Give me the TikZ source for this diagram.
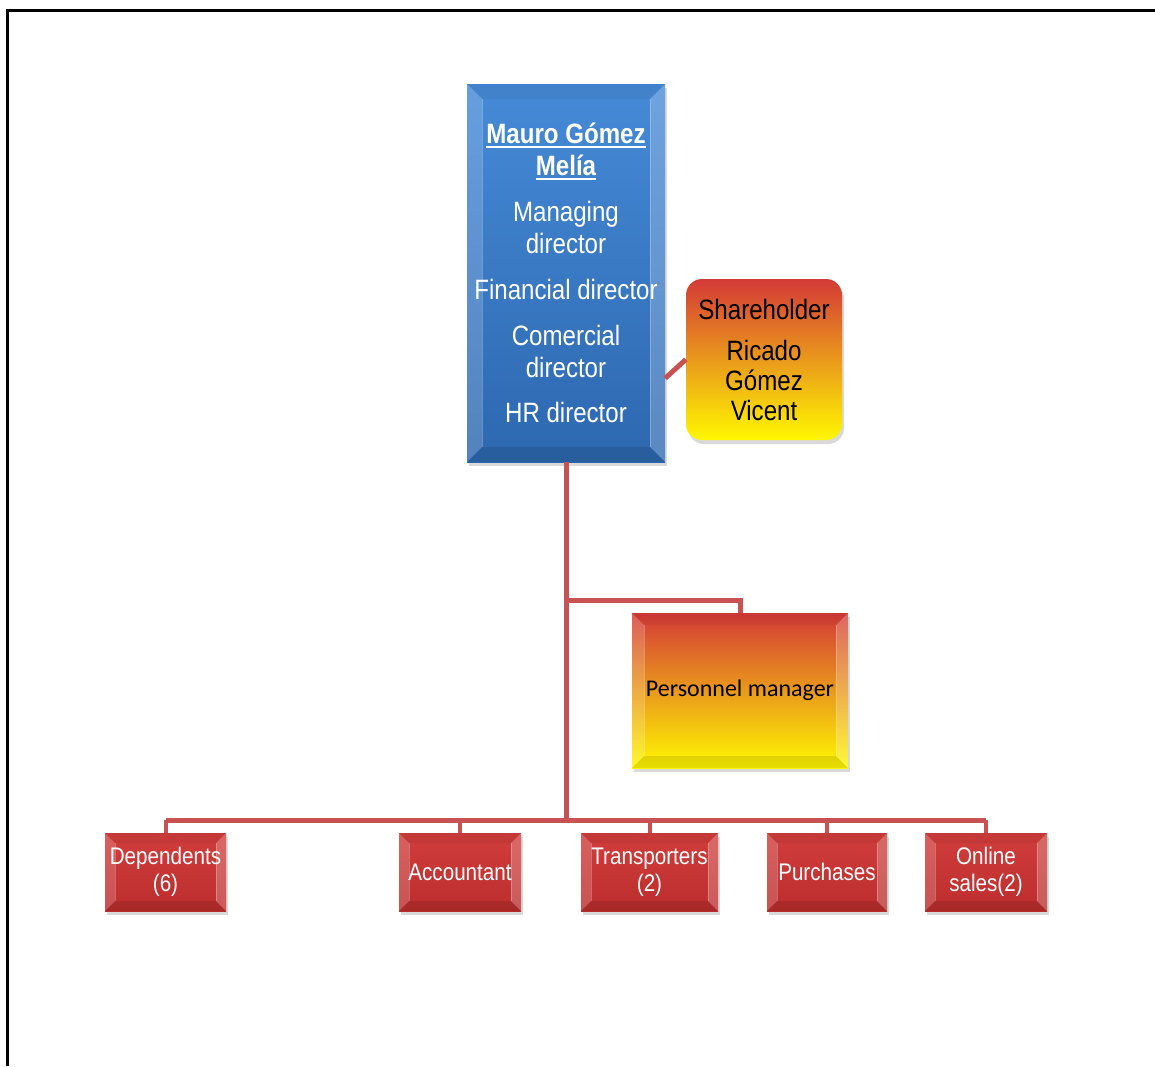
\documentclass[tikz,border=0pt]{standalone}
\usepackage{fontspec}
\setmainfont{Liberation Sans}
\newfontfamily\narrowfont{Liberation Sans}[FakeStretch=0.86]
\newfontfamily\calibrifont{Carlito}
\usetikzlibrary{shadows,calc}
\definecolor{linkred}{RGB}{200,82,82}
\definecolor{bluetop}{RGB}{70,138,215}
\definecolor{bluebot}{RGB}{45,104,176}
\definecolor{redtop}{RGB}{208,62,60}
\definecolor{redbot}{RGB}{188,45,45}
\definecolor{gradred}{RGB}{212,58,55}
\definecolor{gradorange}{RGB}{236,140,38}
\definecolor{gradyellow}{RGB}{255,248,0}
\newcommand\myul[1]{\setbox0\hbox{#1}\rlap{\rule[-4pt]{\wd0}{1.8pt}}\box0}
\tikzset{
  bevel/.style={path picture={
    \coordinate (bvNW) at (path picture bounding box.north west);
    \coordinate (bvNE) at (path picture bounding box.north east);
    \coordinate (bvSW) at (path picture bounding box.south west);
    \coordinate (bvSE) at (path picture bounding box.south east);
    \coordinate (bvnw) at ([shift={(#1,-#1)}]bvNW);
    \coordinate (bvne) at ([shift={(-#1,-#1)}]bvNE);
    \coordinate (bvsw) at ([shift={(#1,#1)}]bvSW);
    \coordinate (bvse) at ([shift={(-#1,#1)}]bvSE);
    \fill[white,opacity=.18] (bvNW) -- (bvnw) -- (bvsw) -- (bvSW) -- cycle;
    \fill[white,opacity=.22] (bvNE) -- (bvne) -- (bvse) -- (bvSE) -- cycle;
    \fill[black,opacity=.05] (bvNW) -- (bvNE) -- (bvne) -- (bvnw) -- cycle;
    \fill[black,opacity=.10] (bvSW) -- (bvSE) -- (bvse) -- (bvsw) -- cycle;
    \draw[white,opacity=.25,line width=.8pt] (bvnw) -- (bvsw) (bvne) -- (bvse);
  }},
  shad/.style={drop shadow={opacity=.3,shadow xshift=2pt,shadow yshift=-4pt}},
  bluebox/.style={rectangle,inner sep=0pt,align=center,text=white,
    top color=bluetop,bottom color=bluebot,shad,bevel=15pt,
    font=\narrowfont\fontsize{28}{32}\selectfont},
  gradbox/.style={rectangle,inner sep=0pt,align=center,text=black,
    top color=gradred,middle color=gradorange,bottom color=gradyellow,shad},
  redbox/.style={rectangle,inner sep=0pt,align=center,text=white,
    minimum height=78pt,top color=redtop,bottom color=redbot,shad,bevel=10pt,
    font=\narrowfont\fontsize{24}{27}\selectfont},
  link/.style={draw=linkred,line width=5pt},
}
\begin{document}
\begin{tikzpicture}[x=1pt,y=-1pt]
\useasboundingbox (0,0) rectangle (1155,1066);
\draw[line width=3pt] (7,1066) -- (7,10) -- (1155,10);

\coordinate (bus) at (566,820);
\coordinate (branch) at (566,600);

\node[bluebox,minimum width=198pt,minimum height=378pt] (md) at (566,273)
  {\myul{\bfseries Mauro Gómez}\\\myul{\bfseries Melía}\\[14pt]
   Managing\\director\\[14pt]
   Financial director\\[14pt]
   Comercial\\director\\[13pt]
   HR director};

\node[gradbox,rounded corners=16pt,minimum width=156pt,minimum height=161pt,
  font=\narrowfont\fontsize{28}{30}\selectfont] (sh) at (764,359.5)
  {Shareholder\\[11pt]Ricado\\Gómez\\Vicent};

\node[gradbox,bevel=12pt,minimum width=216pt,minimum height=155pt,
  font=\calibrifont\fontsize{24}{28}\selectfont] (pm) at (740,690.5)
  {Personnel manager};

\node[redbox,minimum width=121pt] (dep) at (165.5,872) {Dependents\\(6)};
\node[redbox,minimum width=122pt] (acc) at (460,872) {Accountant};
\node[redbox,minimum width=137pt] (tra) at (649.5,872) {Transporters\\(2)};
\node[redbox,minimum width=120pt] (pur) at (827,872) {Purchases};
\node[redbox,minimum width=122pt] (onl) at (986,872) {Online\\sales(2)};

\path[link] ([yshift=84pt]md.south east) -- (sh.west);
\path[link] (md.south) -- (bus);
\path[link] (branch) -| (pm.north);
\path[link] (dep.north |- bus) -- (onl.north |- bus);
\foreach \b in {dep,acc,tra,pur,onl}
  \path[draw=linkred,line width=4pt] (\b.north) -- (\b.north |- bus);
\end{tikzpicture}
\end{document}
